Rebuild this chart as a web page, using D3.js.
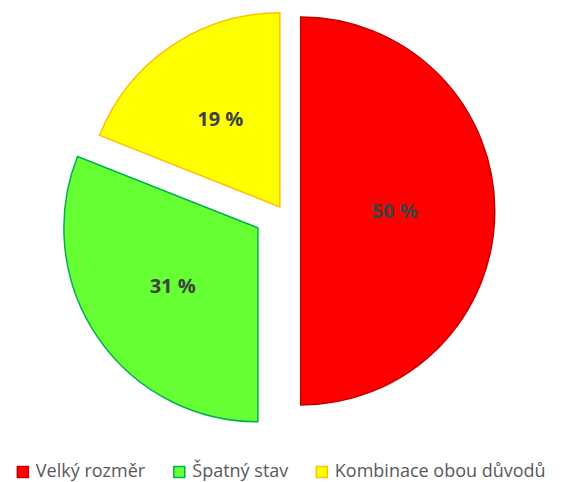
<!DOCTYPE html>
<html>
<head>
<meta charset="utf-8">
<script src="https://cdn.jsdelivr.net/npm/d3@7"></script>
<style>
  body { margin: 0; background: #fff; }
  svg { display: block; }
</style>
</head>
<body>
<svg id="chart" width="562" height="482"></svg>
<script>
// data
const categories = ["Velký rozměr", "Špatný stav", "Kombinace obou důvodů"]
const values = [50, 31, 19]
const fills = ["#ff0000", "#66ff33", "#ffff00"]
const strokes = ["#c00000", "#00b050", "#ffc000"]
// how far each slice is pulled out from the middle (px)
const explode = [18, 30, 5]
// distance of each data label from its slice tip (px)
const labelDist = [94, 103, 106]

const W = 562, H = 482
const cx = 282.7, cy = 211, radius = 194

const svg = d3.select("#chart")

const data = categories.map((c, i) => ({ key: c, value: values[i], i }))

let pie = d3.pie()
    .value(d => d.value)
    .sort(null)

let arc = d3.arc()
    .innerRadius(0)
    .outerRadius(radius)

let pieG = svg.append("g")
    .attr("transform", `translate(${cx},${cy})`)

let slices = pieG.selectAll("g.slice")
    .data(pie(data))
    .enter()
    .append("g")
    .attr("class", "slice")
    .attr("transform", d => {
        let mid = (d.startAngle + d.endAngle) / 2
        let off = explode[d.data.i]
        return `translate(${Math.sin(mid) * off},${-Math.cos(mid) * off})`
    })

slices.append("path")
    .attr("d", arc)
    .style("fill", d => fills[d.data.i])
    .style("stroke", d => strokes[d.data.i])
    .style("stroke-width", 1.5)
    .style("stroke-linejoin", "miter")

slices.append("text")
    .attr("transform", d => {
        let c = d3.arc().innerRadius(0).outerRadius(labelDist[d.data.i] * 2).centroid(d)
        return `translate(${c})`
    })
    .attr("text-anchor", "middle")
    .attr("dy", "0.36em")
    .style("font-family", "'Open Sans', 'Liberation Sans', sans-serif")
    .style("font-size", "20px")
    .style("font-weight", "bold")
    .style("fill", "#404040")
    .text(d => d.value + " %")

/* legend */
let legendG = svg.append("g")
    .attr("transform", "translate(0, 471)")

let items = legendG.selectAll("g.item")
    .data(data)
    .enter()
    .append("g")
    .attr("class", "item")

items.append("rect")
    .attr("x", 0.5)
    .attr("y", -4.5)
    .attr("width", 11)
    .attr("height", 11)
    .style("fill", d => fills[d.i])
    .style("stroke", d => strokes[d.i])
    .style("stroke-width", 1.5)

items.append("text")
    .attr("x", 19)
    .attr("dy", "0.36em")
    .style("font-family", "'Open Sans', Lato, sans-serif")
    .style("font-size", "18px")
    .style("fill", "#595959")
    .text(d => d.key)

let gap = 28
let widths = []
items.each(function () {
    widths.push(this.getBBox().width)
})
let total = d3.sum(widths) + gap * (widths.length - 1)
let x0 = (W - total) / 2
items.attr("transform", (d, i) => {
    let x = x0 + d3.sum(widths.slice(0, i)) + gap * i
    return `translate(${x},0)`
})
</script>
</body>
</html>
